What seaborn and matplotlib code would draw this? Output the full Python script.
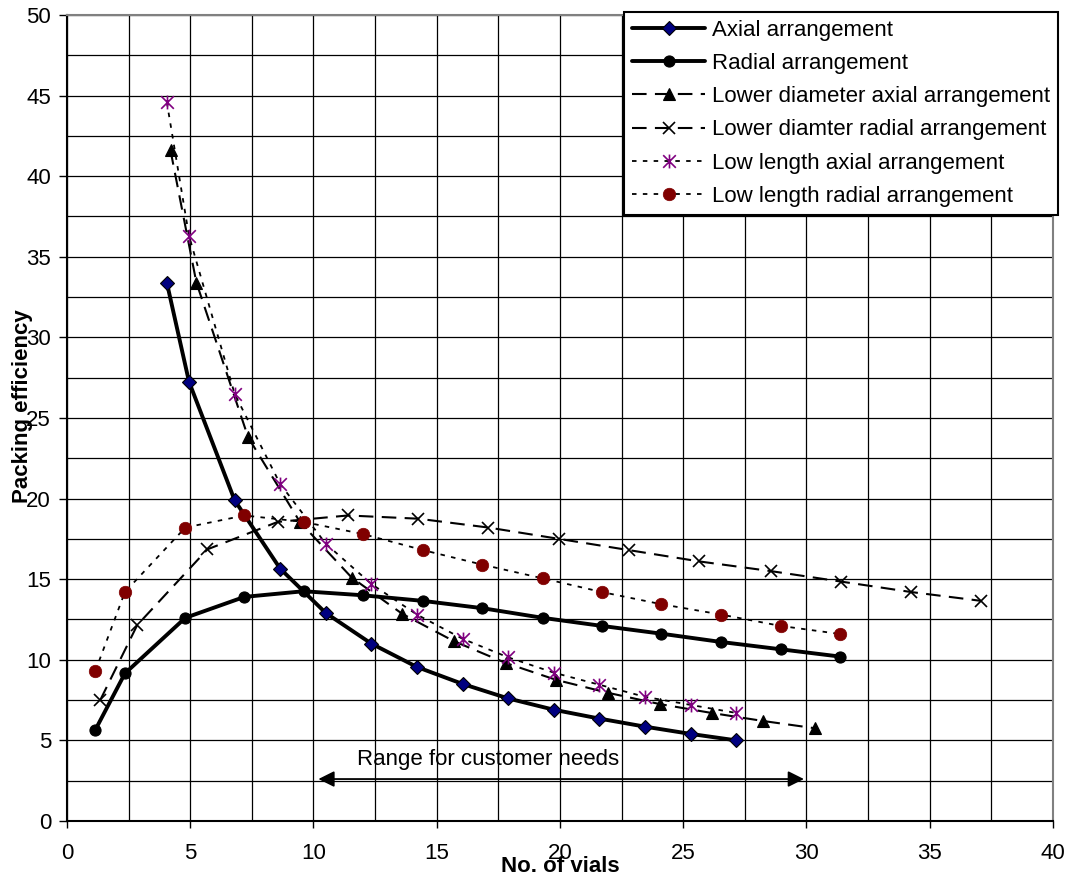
import numpy as np
import matplotlib.pyplot as plt
from matplotlib.path import Path
import seaborn as sns

# values
axial_x = [4.05, 4.95, 6.8, 8.65, 10.5, 12.35, 14.2, 16.05, 17.9, 19.75, 21.6, 23.45, 25.3, 27.15]
axial_y = [33.4, 27.25, 19.9, 15.65, 12.9, 11.0, 9.55, 8.5, 7.6, 6.9, 6.35, 5.85, 5.4, 5.0]

radial_x = [1.15, 2.35, 4.8, 7.2, 9.6, 12.0, 14.45, 16.85, 19.3, 21.7, 24.1, 26.55, 28.95, 31.35]
radial_y = [5.65, 9.15, 12.6, 13.9, 14.25, 14.0, 13.65, 13.2, 12.6, 12.1, 11.62, 11.1, 10.65, 10.2]

ld_axial_x = [4.2, 5.25, 7.35, 9.45, 11.55, 13.6, 15.7, 17.8, 19.85, 21.95, 24.05, 26.15, 28.25, 30.35]
ld_axial_y = [41.6, 33.4, 23.8, 18.55, 15.1, 12.85, 11.15, 9.8, 8.75, 7.95, 7.25, 6.7, 6.2, 5.75]

ld_radial_x = [1.35, 2.85, 5.7, 8.55, 11.4, 14.25, 17.1, 19.95, 22.8, 25.65, 28.55, 31.4, 34.25, 37.1]
ld_radial_y = [7.5, 12.15, 16.85, 18.55, 18.95, 18.75, 18.2, 17.5, 16.8, 16.1, 15.5, 14.85, 14.2, 13.65]

ll_axial_x = axial_x
ll_axial_y = [44.6, 36.3, 26.5, 20.9, 17.2, 14.7, 12.8, 11.3, 10.15, 9.2, 8.45, 7.7, 7.2, 6.7]

ll_radial_x = radial_x
ll_radial_y = [9.3, 14.2, 18.2, 18.95, 18.55, 17.8, 16.8, 15.9, 15.05, 14.2, 13.45, 12.8, 12.1, 11.6]

sns.set_theme(style="white")
plt.rcParams['font.family'] = ['Liberation Sans', 'DejaVu Sans']
plt.rcParams['text.color'] = 'black'
plt.rcParams['axes.labelcolor'] = 'black'
plt.rcParams['xtick.color'] = 'black'
plt.rcParams['ytick.color'] = 'black'
fs = 16

fig, ax = plt.subplots(figsize=(10.7, 8.77), dpi=100)
fig.subplots_adjust(left=0.0626, right=0.984, bottom=0.0639, top=0.983)

# excel style star marker: X with a vertical bar
star = Path([(-1, -1), (1, 1), (-1, 1), (1, -1), (0, -1.1), (0, 1.1)],
            [Path.MOVETO, Path.LINETO] * 3)

long_dash = (0, (7, 4))
short_dot = (0, (2.5, 3.5))

series = [
    ("Axial arrangement", axial_x, axial_y,
     dict(color="black", lw=2.8, ls="-", marker="D", ms=7.5, mfc="#000080", mec="black", mew=0.8)),
    ("Radial arrangement", radial_x, radial_y,
     dict(color="black", lw=2.8, ls="-", marker="o", ms=8, mfc="black", mec="black", mew=0.8)),
    ("Lower diameter axial arrangement", ld_axial_x, ld_axial_y,
     dict(color="black", lw=1.5, ls=long_dash, marker="^", ms=9, mfc="black", mec="black", mew=0.8)),
    ("Lower diamter radial arrangement", ld_radial_x, ld_radial_y,
     dict(color="black", lw=1.5, ls=long_dash, marker="x", ms=8.5, mec="black", mew=1.2)),
    ("Low length axial arrangement", ll_axial_x, ll_axial_y,
     dict(color="black", lw=1.3, ls=short_dot, marker=star, ms=10, mfc="none", mec="#800080", mew=1.2)),
    ("Low length radial arrangement", ll_radial_x, ll_radial_y,
     dict(color="black", lw=1.3, ls=short_dot, marker="o", ms=9, mfc="#800000", mec="#800000", mew=0.5)),
]

for label, xs, ys, kw in series:
    sns.lineplot(x=xs, y=ys, ax=ax, sort=False, estimator=None, label=label, **kw)

ax.set_xlim(0, 40)
ax.set_ylim(0, 50)
ax.set_xticks(np.arange(0, 41, 5))
ax.set_yticks(np.arange(0, 51, 5))
ax.set_xticks(np.arange(0, 40.1, 2.5), minor=True)
ax.set_yticks(np.arange(0, 50.1, 2.5), minor=True)
ax.grid(which="both", color="black", lw=0.9)
ax.tick_params(which="minor", length=0)
ax.tick_params(axis="y", which="major", direction="out", length=5.5, width=1,
               labelsize=fs, pad=6, left=True)
ax.tick_params(axis="x", which="major", direction="out", length=5, width=1,
               labelsize=fs, pad=11, bottom=True)

for side in ["left", "bottom"]:
    ax.spines[side].set_color("black")
    ax.spines[side].set_linewidth(1.5)
for side in ["top", "right"]:
    ax.spines[side].set_color("#808080")
    ax.spines[side].set_linewidth(1.5)

ax.set_xlabel("No. of vials", fontsize=fs, fontweight="bold")
ax.set_ylabel("Packing efficiency", fontsize=fs, fontweight="bold")
ax.xaxis.set_label_coords(0.5, -0.043)
ax.yaxis.set_label_coords(-0.034, 0.515)

# customer range arrow
ax.annotate("", xy=(10.2, 2.6), xytext=(29.9, 2.6),
            arrowprops=dict(arrowstyle="<|-|>", color="black", lw=1.3, mutation_scale=24,
                            shrinkA=0, shrinkB=0))
ax.text(11.75, 3.8, "Range for customer needs", fontsize=fs, va="center", ha="left")

leg = ax.legend(loc="upper right", bbox_to_anchor=(1058 / 1070, 1 - 12 / 877),
                bbox_transform=fig.transFigure, frameon=True, fancybox=False,
                edgecolor="black", framealpha=1, fontsize=fs, handlelength=3.3,
                handletextpad=0.3, labelspacing=0.55, borderpad=0.35, borderaxespad=0,
                numpoints=1)
leg.get_frame().set_linewidth(1.5)

fig.savefig("out.png", dpi=100)
